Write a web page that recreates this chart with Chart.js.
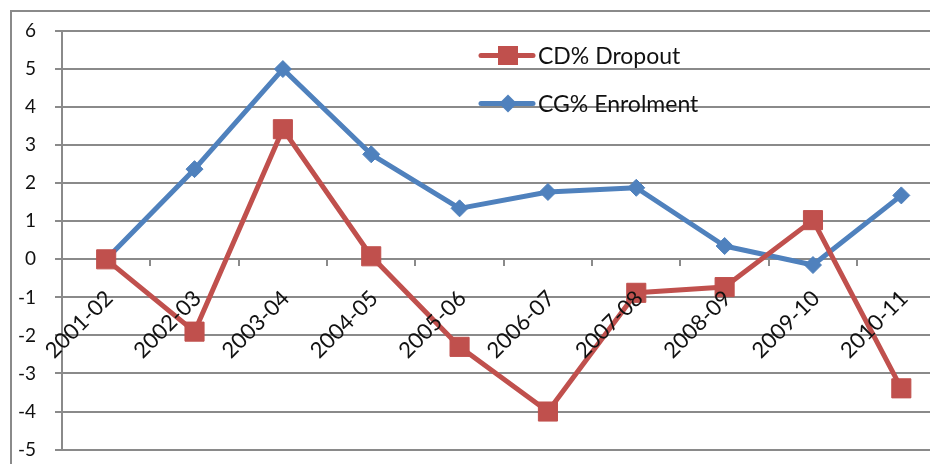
<!DOCTYPE html>
<html>
<head>
<meta charset="utf-8">
<script src="https://cdn.jsdelivr.net/npm/chart.js@4.4.1/dist/chart.umd.min.js"></script>
<style>
  html, body { margin: 0; padding: 0; background: #fff; overflow: hidden; width: 930px; height: 464px; }
  #wrap { position: absolute; left: 0; top: 0; width: 960px; height: 480px; }
</style>
</head>
<body>
<div id="wrap"><canvas id="c" width="960" height="480"></canvas></div>
<script>
// ---- data ----
const categories = ['2001-02', '2002-03', '2003-04', '2004-05', '2005-06', '2006-07', '2007-08', '2008-09', '2009-10', '2010-11'];
const seriesLabels = ['CD% Dropout', 'CG% Enrolment'];
const dropoutValues = [0, -1.9, 3.42, 0.08, -2.3, -4.0, -0.88, -0.73, 1.03, -3.39];
const enrolmentValues = [0, 2.37, 5.0, 2.76, 1.34, 1.77, 1.88, 0.35, -0.15, 1.68];
const yMin = -5;
const yMax = 6;
const yStep = 1;

// ---- styles ----
const RED = '#C0504D';
const BLUE = '#4F81BD';
const GRID = '#8a8a8a';
const TEXT = '#111111';
const FONT = 'Lato';

const framePlugin = {
  id: 'frame',
  beforeDraw(chart) {
    const ctx = chart.ctx;
    ctx.save();
    ctx.fillStyle = '#ffffff';
    ctx.fillRect(0, 0, chart.width, chart.height);
    ctx.strokeStyle = GRID;
    ctx.lineWidth = 2;
    ctx.strokeRect(11, 11, 2000, 2000);
    ctx.restore();
  }
};

const legendPlugin = {
  id: 'insideLegend',
  afterDraw(chart) {
    const ctx = chart.ctx;
    const rows = [55.5, 103.5];
    chart.data.datasets.forEach((ds, i) => {
      const y = rows[i];
      ctx.save();
      ctx.strokeStyle = ds.borderColor;
      ctx.lineWidth = 5;
      ctx.lineCap = 'round';
      ctx.beginPath();
      ctx.moveTo(481, y);
      ctx.lineTo(533, y);
      ctx.stroke();
      ctx.fillStyle = ds.pointBackgroundColor;
      if (ds.pointStyle === 'rect') {
        ctx.fillRect(498, y - 9.5, 20, 19);
      } else {
        const r = 9;
        ctx.beginPath();
        ctx.moveTo(508 - r, y);
        ctx.lineTo(508, y - r);
        ctx.lineTo(508 + r, y);
        ctx.lineTo(508, y + r);
        ctx.closePath();
        ctx.fill();
      }
      ctx.fillStyle = TEXT;
      ctx.font = '23px ' + FONT;
      ctx.textBaseline = 'middle';
      ctx.textAlign = 'left';
      ctx.fillText(ds.label, 538, y + 1);
      ctx.restore();
    });
  }
};

function draw() {
  new Chart(document.getElementById('c'), {
    type: 'line',
    data: {
      labels: categories,
      datasets: [
        {
          label: seriesLabels[0],
          data: dropoutValues,
          borderColor: RED,
          backgroundColor: RED,
          pointBackgroundColor: RED,
          pointBorderColor: RED,
          borderWidth: 5,
          pointStyle: 'rect',
          pointRadius: 13.5,
          pointBorderWidth: 1,
          borderJoinStyle: 'round',
          borderCapStyle: 'round',
          tension: 0
        },
        {
          label: seriesLabels[1],
          data: enrolmentValues,
          borderColor: BLUE,
          backgroundColor: BLUE,
          pointBackgroundColor: BLUE,
          pointBorderColor: BLUE,
          borderWidth: 5,
          pointStyle: 'rectRot',
          pointRadius: 8.5,
          pointBorderWidth: 1,
          borderJoinStyle: 'round',
          borderCapStyle: 'round',
          tension: 0
        }
      ]
    },
    options: {
      responsive: false,
      animation: false,
      devicePixelRatio: 1,
      layout: { padding: { left: 0, top: 31, right: 14, bottom: 15 } },
      plugins: {
        legend: { display: false },
        tooltip: { enabled: false },
        title: { display: false }
      },
      scales: {
        x: {
          type: 'category',
          position: { y: 0 },
          offset: true,
          grid: {
            display: true,
            drawOnChartArea: false,
            drawTicks: true,
            tickLength: 7,
            offset: true,
            color: GRID,
            lineWidth: 2
          },
          border: { display: false },
          ticks: {
            autoSkip: false,
            maxRotation: 45,
            minRotation: 45,
            padding: 19,
            labelOffset: 3,
            color: TEXT,
            font: { family: FONT, size: 22 },
            z: 1
          }
        },
        y: {
          min: yMin,
          max: yMax,
          afterFit(scale) { scale.width = 62; },
          grid: {
            color: GRID,
            lineWidth: 2,
            tickLength: 7,
            drawTicks: true
          },
          border: { display: true, color: GRID, width: 2 },
          ticks: {
            stepSize: yStep,
            padding: 19,
            color: TEXT,
            font: { family: FONT, size: 19 }
          }
        }
      }
    },
    plugins: [framePlugin, legendPlugin]
  });
}

if (document.fonts && document.fonts.load) {
  Promise.all([document.fonts.load('22px Lato'), document.fonts.load('23px Lato')]).then(draw, draw);
} else {
  draw();
}
</script>
</body>
</html>
